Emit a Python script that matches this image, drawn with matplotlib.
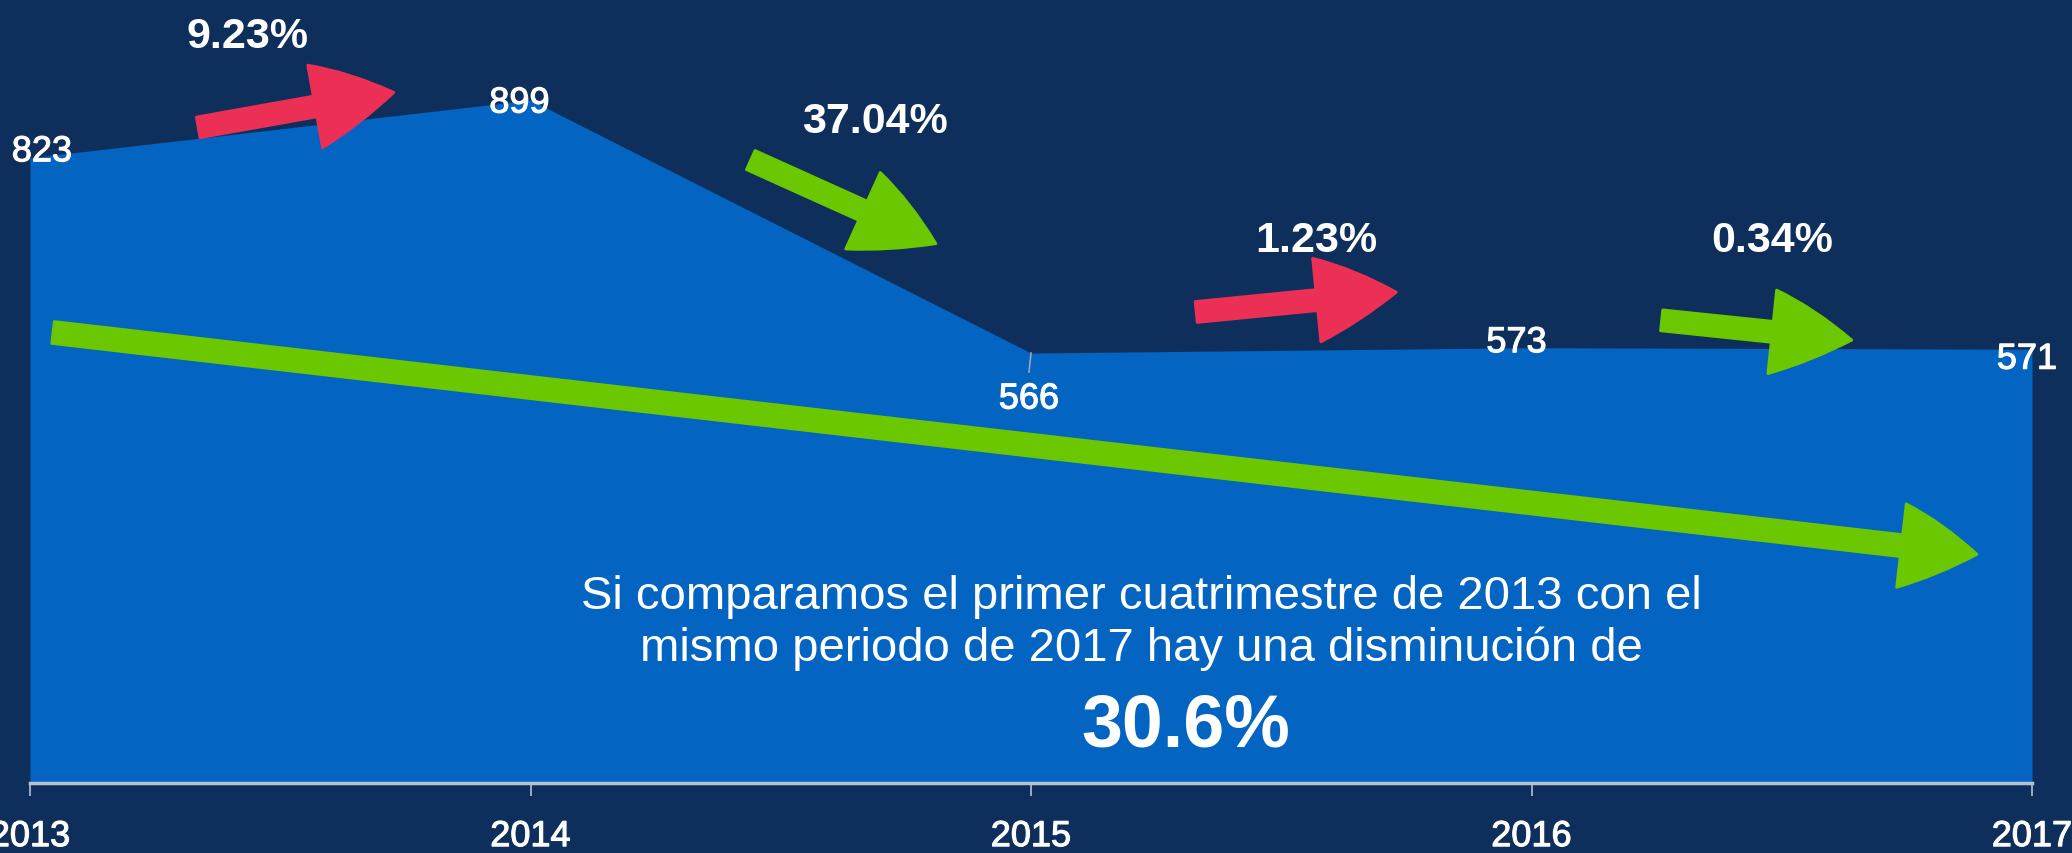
import numpy as np
import matplotlib
matplotlib.use('Agg')
from matplotlib import pyplot as plt
from matplotlib.path import Path
from matplotlib.patches import PathPatch
from matplotlib.transforms import IdentityTransform
import matplotlib.patheffects as pe

plt.rcParams['font.family'] = ['Liberation Sans', 'DejaVu Sans']

# data
years = [2013, 2014, 2015, 2016, 2017]
values = [823, 899, 566, 573, 571]
year_labels = ['2013', '2014', '2015', '2016', '2017']

# change between consecutive years
changes = ['9.23%', '37.04%', '1.23%', '0.34%']
change_up = [True, False, True, False]
total_change = '30.6%'
note = 'Si comparamos el primer cuatrimestre de 2013 con el\nmismo periodo de 2017 hay una disminución de'

bg = '#0E2F5B'
area = '#0364C1'
red = '#EB2F55'
green = '#6BC800'
thick = [pe.withStroke(linewidth=0.8, foreground='white')]

fig = plt.figure(figsize=(20.72, 8.54), dpi=100, facecolor=bg)
ax = fig.add_axes([30/2072, 70/854, 2002/2072, 784/854])
ax.set_facecolor(bg)
ax.fill_between(years, values, 0, color=area, lw=0)
ax.set_xlim(2013, 2017)
ax.set_ylim(0, 1032)

for s in ['left', 'right', 'top']:
    ax.spines[s].set_visible(False)
ax.spines['bottom'].set_color('#B4C2D4')
ax.spines['bottom'].set_linewidth(2.5)
ax.set_yticks([])
ax.set_xticks(years)
ax.set_xticklabels(year_labels, fontsize=26, color='white')
ax.tick_params(axis='x', length=9, width=1.2, color='#B4C2D4', pad=17)
for lab in ax.get_xticklabels():
    lab.set_path_effects(thick)

# value labels (offsets in pixels)
offsets = [(12, 6), (-11, -3), (-2, -46), (-15, 5), (-5, -10)]
for x, v, off in zip(years, values, offsets):
    ax.annotate(str(v), (x, v), xytext=off, textcoords='offset pixels',
                ha='center', va='center', fontsize=26, color='white',
                path_effects=thick)
ax.plot([2015, 2014.996], [566, 541], color='#9AA6B4', lw=1.2)


def arrow(tail, tip, color, w, hw, hl):
    # block arrow with a slightly swept head, built in pixel space
    t = ax.transData.transform(tail)
    h = ax.transData.transform(tip)
    u = (h - t) / np.hypot(*(h - t))
    n = np.array([-u[1], u[0]])
    b = h - u * hl
    verts = [t + n*w/2, b + n*w/2, b + n*hw/2, b + u*hl*0.5 + n*hw*0.33, h,
             b + u*hl*0.5 - n*hw*0.31, b - n*hw/2, b - n*w/2, t - n*w/2, t + n*w/2]
    codes = [Path.MOVETO, Path.LINETO, Path.LINETO, Path.CURVE3, Path.CURVE3,
             Path.CURVE3, Path.CURVE3, Path.LINETO, Path.LINETO, Path.CLOSEPOLY]
    p = PathPatch(Path(verts, codes), transform=IdentityTransform(), fc=color,
                  ec=color, lw=2, joinstyle='round', clip_on=False)
    ax.add_patch(p)


# small arrows between years: tail, tip in data coords
arrows = [((2013.336, 863), (2013.727, 909)),
          ((2014.44, 820), (2014.81, 710)),
          ((2015.33, 620), (2015.73, 646)),
          ((2016.26, 609), (2016.64, 583))]
label_pos = [(2013.434, 983), (2014.688, 871), (2015.57, 715), (2016.48, 715)]
for (t, h), up, txt, lp in zip(arrows, change_up, changes, label_pos):
    arrow(t, h, red if up else green, 21, 84, 80)
    ax.text(lp[0], lp[1], txt, ha='center', va='center', fontsize=31,
            fontweight='bold', color='white')

arrow((2013.046, 593), (2016.89, 301), green, 22, 84, 76)

ax.text(2015.22, 212, note, ha='center', va='center', fontsize=34,
        color='white', linespacing=1.2)
ax.text(2015.31, 75, total_change, ha='center', va='center', fontsize=53,
        fontweight='bold', color='white')

fig.savefig('out.png', dpi=100, facecolor=bg)
